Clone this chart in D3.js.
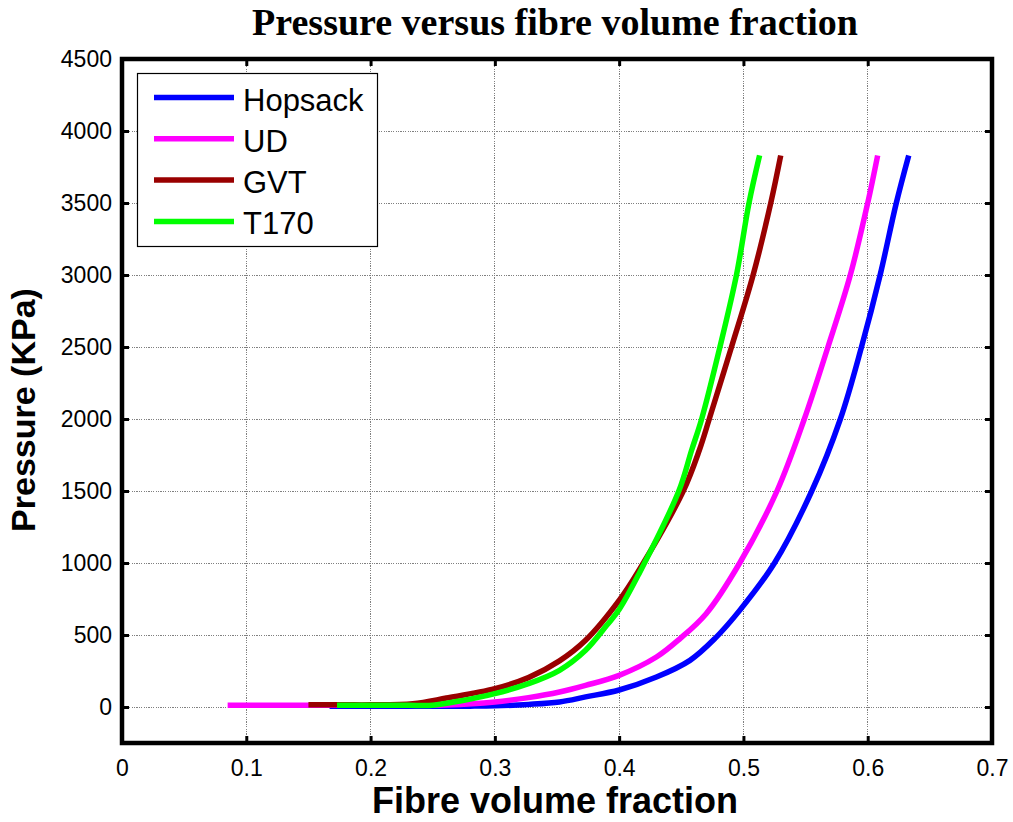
<!DOCTYPE html>
<html>
<head>
<meta charset="utf-8">
<script src="https://cdn.jsdelivr.net/npm/d3@7"></script>
<style>
  html, body { margin: 0; padding: 0; background: #fff; }
  svg { display: block; }
</style>
</head>
<body>
<svg id="chart" width="1013" height="822"></svg>
<script>
// Compaction curves: pressure (kPa) against fibre volume fraction
const seriesNames = ["Hopsack", "UD", "GVT", "T170"];
const seriesColors = ["#0000ff", "#ff00ff", "#990000", "#00ff00"];

const hopsackVf = [0.167, 0.2, 0.25, 0.28, 0.3, 0.327, 0.352, 0.373, 0.4, 0.43, 0.457, 0.477, 0.497, 0.525, 0.555, 0.578, 0.595, 0.610, 0.623, 0.633];
const hopsackP  = [6, 6, 6, 6, 8, 18, 35, 70, 118, 208, 324, 475, 671, 1000, 1500, 2000, 2500, 3000, 3500, 3830];

const udVf = [0.085, 0.12, 0.16, 0.2, 0.24, 0.261, 0.3, 0.327, 0.352, 0.373, 0.4, 0.43, 0.449, 0.47, 0.497, 0.527, 0.549, 0.568, 0.586, 0.600, 0.608];
const udP  = [12, 12, 12, 12, 12, 14, 35, 65, 104, 150, 220, 347, 475, 648, 1000, 1500, 2000, 2500, 3000, 3500, 3830];

const gvtVf = [0.150, 0.18, 0.2, 0.234, 0.261, 0.3, 0.327, 0.352, 0.373, 0.4, 0.416, 0.4516, 0.4645, 0.4725, 0.4904, 0.5078, 0.522, 0.530];
const gvtP  = [15, 15, 15, 23, 62, 127, 204, 320, 463, 740, 950, 1500, 1783, 2000, 2500, 3000, 3500, 3830];

const t170Vf = [0.173, 0.2, 0.23, 0.25, 0.272, 0.3, 0.327, 0.352, 0.373, 0.39, 0.4, 0.416, 0.448, 0.4583, 0.4664, 0.4811, 0.4944, 0.5045, 0.513];
const t170P  = [12, 12, 12, 12, 42, 93, 162, 255, 394, 567, 677, 926, 1500, 1783, 2000, 2500, 3000, 3500, 3830];

const xTicks = [0, 0.1, 0.2, 0.3, 0.4, 0.5, 0.6, 0.7];
const yTicks = [0, 500, 1000, 1500, 2000, 2500, 3000, 3500, 4000, 4500];

const series = [
  { name: seriesNames[0], color: seriesColors[0], vf: hopsackVf, p: hopsackP },
  { name: seriesNames[1], color: seriesColors[1], vf: udVf, p: udP },
  { name: seriesNames[2], color: seriesColors[2], vf: gvtVf, p: gvtP },
  { name: seriesNames[3], color: seriesColors[3], vf: t170Vf, p: t170P }
];

const svg = d3.select("#chart");
const box = { left: 122, right: 992, top: 59, bottom: 743 };

const x = d3.scaleLinear().domain([0, 0.7]).range([box.left, box.right]);
const y = d3.scaleLinear().domain([-250, 4500]).range([box.bottom, box.top]);

const sans = "'Liberation Sans', Arial, sans-serif";

// grid
const grid = svg.append("g").attr("stroke", "#808080").attr("stroke-width", 1)
  .attr("stroke-dasharray", "1.2,1.2").attr("shape-rendering", "crispEdges");
grid.selectAll("line.gx").data(xTicks).join("line")
  .attr("x1", d => x(d)).attr("x2", d => x(d))
  .attr("y1", box.top).attr("y2", box.bottom);
grid.selectAll("line.gy").data(yTicks).join("line")
  .attr("x1", box.left).attr("x2", box.right)
  .attr("y1", d => y(d)).attr("y2", d => y(d));

// curves
const line = d3.line().x(d => x(d[0])).y(d => y(d[1])).curve(d3.curveCatmullRom.alpha(0.5));
svg.append("g").selectAll("path").data(series).join("path")
  .attr("fill", "none")
  .attr("stroke", d => d.color)
  .attr("stroke-width", 5.5)
  .attr("stroke-linejoin", "round")
  .attr("stroke-linecap", "butt")
  .attr("d", d => line(d.vf.map((v, i) => [v, d.p[i]])));

// axes with inward ticks on all four sides
function styleAxis(g) {
  g.select(".domain").remove();
  g.selectAll(".tick line").attr("stroke", "#000").attr("stroke-width", 3);
  g.selectAll(".tick text").attr("fill", "#000").attr("font-family", sans).attr("font-size", 23);
}
svg.append("g").attr("transform", `translate(0,${box.bottom})`)
  .call(d3.axisBottom(x).tickValues(xTicks).tickSize(-7).tickPadding(17).tickFormat(d3.format("")))
  .call(styleAxis);
svg.append("g").attr("transform", `translate(${box.left},0)`)
  .call(d3.axisLeft(y).tickValues(yTicks).tickSize(-7).tickPadding(10).tickFormat(d3.format("d")))
  .call(styleAxis);
svg.append("g").attr("transform", `translate(0,${box.top})`)
  .call(d3.axisTop(x).tickValues(xTicks).tickSize(-7).tickFormat(""))
  .call(styleAxis);
svg.append("g").attr("transform", `translate(${box.right},0)`)
  .call(d3.axisRight(y).tickValues(yTicks).tickSize(-7).tickFormat(""))
  .call(styleAxis);

// frame
svg.append("rect")
  .attr("x", box.left).attr("y", box.top)
  .attr("width", box.right - box.left).attr("height", box.bottom - box.top)
  .attr("fill", "none").attr("stroke", "#000").attr("stroke-width", 4.5);

// legend
const legend = svg.append("g");
legend.append("rect")
  .attr("x", 137.5).attr("y", 73.5).attr("width", 240).attr("height", 173)
  .attr("fill", "#fff").attr("stroke", "#000").attr("stroke-width", 1.2);
const item = legend.selectAll("g.item").data(series).join("g")
  .attr("transform", (d, i) => `translate(0,${97.5 + i * 41.3})`);
item.append("line").attr("x1", 154).attr("x2", 234).attr("y1", 0).attr("y2", 0)
  .attr("stroke", d => d.color).attr("stroke-width", 5.5);
item.append("text").attr("x", 243).attr("y", 13)
  .attr("font-family", sans).attr("font-size", 31).attr("fill", "#000")
  .text(d => d.name);

// titles
svg.append("text").attr("x", 555).attr("y", 35).attr("text-anchor", "middle")
  .attr("font-family", "'Liberation Serif', 'Times New Roman', serif")
  .attr("font-weight", "bold").attr("font-size", 38).text("Pressure versus fibre volume fraction");
svg.append("text").attr("x", 555).attr("y", 813).attr("text-anchor", "middle")
  .attr("font-family", sans).attr("font-weight", "bold").attr("font-size", 36)
  .text("Fibre volume fraction");
svg.append("text").attr("transform", "translate(35,410) rotate(-90)").attr("text-anchor", "middle")
  .attr("font-family", sans).attr("font-weight", "bold").attr("font-size", 34)
  .text("Pressure (KPa)");
</script>
</body>
</html>
